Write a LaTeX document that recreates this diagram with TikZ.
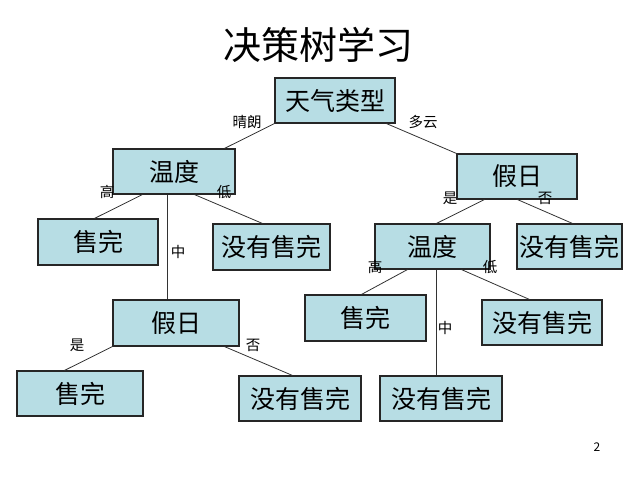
\documentclass[tikz,border=0pt]{standalone}
\usepackage{fontspec}
\setmainfont{Noto Sans CJK SC}
\usetikzlibrary{calc}
\definecolor{boxfill}{RGB}{183,221,228}
\tikzset{
  box/.style={draw=black!85, line width=1.1pt, fill=boxfill, inner sep=0pt, font=\fontsize{25}{25}\selectfont},
  lbl/.style={inner sep=0pt, font=\fontsize{14.5}{14.5}\selectfont},
  edge/.style={draw=black!80, line width=0.8pt}
}
\begin{document}
\begin{tikzpicture}[x=1pt,y=-1pt]
\useasboundingbox[fill=white] (0,0) rectangle (640,480);
\node[inner sep=0pt, font=\fontsize{38}{38}\selectfont] (title) at (318,45) {决策树学习};
% boxes
\node[box, minimum width=120, minimum height=45] (wt) at (335,100.5) {天气类型};
\node[box, minimum width=122, minimum height=45] (t1) at (174,171.5) {温度};
\node[box, minimum width=120, minimum height=45] (h2) at (517,176.5) {假日};
\node[box, minimum width=120, minimum height=46] (s1) at (98,242) {售完};
\node[box, minimum width=117, minimum height=46] (n1) at (271.5,247) {没有售完};
\node[box, minimum width=115, minimum height=45] (t2) at (432.5,246.5) {温度};
\node[box, minimum width=105, minimum height=45] (n2) at (569.5,246.5) {没有售完};
\node[box, minimum width=126, minimum height=46] (h1) at (176,323) {假日};
\node[box, minimum width=121, minimum height=46] (s3) at (365.5,318) {售完};
\node[box, minimum width=120, minimum height=45] (n3) at (542,322.5) {没有售完};
\node[box, minimum width=126, minimum height=45] (s2) at (80,393.5) {售完};
\node[box, minimum width=122, minimum height=45] (n4) at (300,398.5) {没有售完};
\node[box, minimum width=122, minimum height=45] (n5) at (441,398.5) {没有售完};
% edges
\draw[edge] (wt.south west) -- ($(t1.north west)+(112,0)$);
\draw[edge] ($(wt.south west)+(112,0)$) -- (h2.north west);
\draw[edge] ($(t1.south west)+(30,0)$) -- ($(s1.north west)+(57,0)$);
\draw[edge] ($(t1.south west)+(55,0)$) -- ($(h1.north west)+(55,0)$);
\draw[edge] ($(t1.south west)+(82,0)$) -- ($(n1.north west)+(50,0)$);
\draw[edge] ($(h2.south west)+(28,0)$) -- ($(t2.north west)+(62,0)$);
\draw[edge] ($(h2.south west)+(61,0)$) -- ($(n2.north west)+(56,0)$);
\draw[edge] ($(t2.south west)+(33,0)$) -- ($(s3.north west)+(57,0)$);
\draw[edge] ($(t2.south west)+(62,0)$) -- ($(n5.north west)+(57,0)$);
\draw[edge] ($(t2.south west)+(87,0)$) -- ($(n3.north west)+(48,0)$);
\draw[edge] (h1.south west) -- ($(s2.north west)+(48,0)$);
\draw[edge] ($(h1.south west)+(112,0)$) -- ($(n4.north west)+(54,0)$);
% labels
\node[lbl] (l1) at (247,122) {晴朗};
\node[lbl] (l2) at (423,122) {多云};
\node[lbl] (l3) at (107,192) {高};
\node[lbl] (l4) at (224,192) {低};
\node[lbl] (l5) at (178,252) {中};
\node[lbl] (l6) at (450,198) {是};
\node[lbl] (l7) at (545,198) {否};
\node[lbl] (l8) at (375,267) {高};
\node[lbl] (l9) at (490,267) {低};
\node[lbl] (l10) at (445,328) {中};
\node[lbl] (l11) at (77,345) {是};
\node[lbl] (l12) at (253,345) {否};
\node[inner sep=0pt, font=\fontsize{12}{12}\selectfont] (pg) at (597,447) {2};
\end{tikzpicture}
\end{document}
